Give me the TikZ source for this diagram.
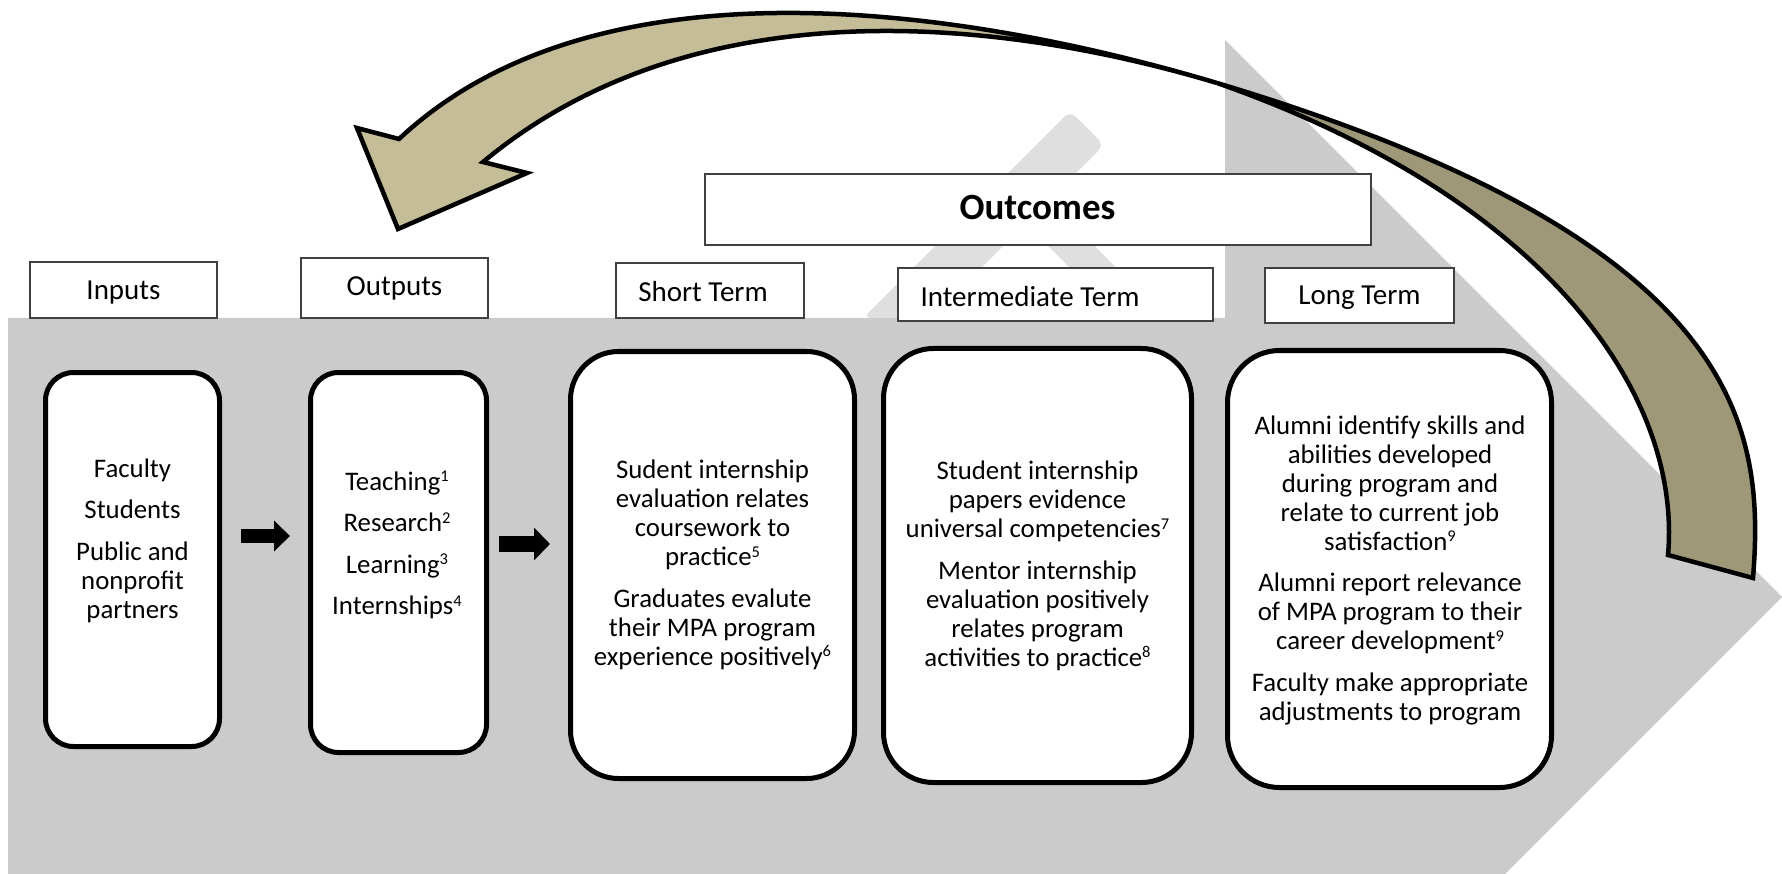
\documentclass[tikz,border=0pt]{standalone}
\usepackage{fontspec}
\setmainfont{Carlito}
\usetikzlibrary{arrows.meta}
\definecolor{bggray}{RGB}{203,203,203}
\definecolor{lightband}{RGB}{223,223,223}
\definecolor{tanlight}{RGB}{196,189,151}
\definecolor{tandark}{RGB}{158,151,120}
\definecolor{boxline}{RGB}{64,64,64}
\newcommand\supnum[1]{\smash{\raisebox{8.5pt}{\fontsize{16.5}{16.5}\selectfont #1}}}
\newcommand\mytab[1]{\begin{tabular}[t]{@{}c@{}}#1\end{tabular}}
\begin{document}
\begin{tikzpicture}[x=1pt,y=-1pt,
  lbl/.style={draw=boxline,line width=1.5pt,fill=white,inner sep=0pt},
  rbox/.style={draw=black,line width=5pt,fill=white,inner sep=0pt},
  lbltext/.style={font=\fontsize{29}{34}\selectfont,inner sep=0pt,anchor=base},
  boxtext/.style={font=\fontsize{26.8}{29}\selectfont,inner sep=0pt,anchor=base},
  blkA/.style={draw=black,line width=14pt,-{Triangle[width=30pt,length=16pt]}},
  blkB/.style={draw=black,line width=16pt,-{Triangle[width=32pt,length=16pt]}},
  tanarrow/.style={draw=black,line width=4.5pt,line join=miter}
]
\useasboundingbox (0,0) rectangle (1782,874);
% big gray chevron
\fill[bggray] (8,318) -- (1225,318) -- (1225,40) -- (1782,597) -- (1505,874) -- (8,874) -- cycle;
% light gray bands
\fill[lightband,rounded corners=8pt] (1070,111) -- (1104,145) -- (931,318) -- (863,318) -- cycle;
\fill[lightband] (1025,223) -- (1049,200) -- (1166,318) -- (1120,318) -- cycle;

% header boxes
\node[lbl,minimum width=666pt,minimum height=71pt] (ocL) at (1038,209.5) {};
\node[lbl,minimum width=187pt,minimum height=56pt] (inL) at (123.5,290) {};
\node[lbl,minimum width=187pt,minimum height=60pt] (outL) at (394.5,288) {};
\node[lbl,minimum width=188pt,minimum height=55pt] (stL) at (710,290.5) {};
\node[lbl,minimum width=315pt,minimum height=53pt] (imL) at (1055.5,294.5) {};
\node[lbl,minimum width=189pt,minimum height=55pt] (ltL) at (1359.5,295.5) {};

\node[inner sep=0pt,anchor=base,font=\fontsize{37}{44}\selectfont\bfseries] (ocT) at (1037.5,220) {Outcomes};
\node[lbltext] (inT) at (123.5,300) {Inputs};
\node[lbltext] (outT) at (394.5,296) {Outputs};
\node[lbltext] (stT) at (703,301.5) {Short Term};
\node[lbltext] (imT) at (1030,307) {Intermediate Term};
\node[lbltext] (ltT) at (1359.5,305) {Long Term};

% rounded content boxes
\node[rbox,rounded corners=28pt,minimum width=174pt,minimum height=374pt] (inB) at (132.5,559.5) {};
\node[rbox,rounded corners=28pt,minimum width=176pt,minimum height=380pt] (outB) at (398.5,562.5) {};
\node[rbox,rounded corners=48pt,minimum width=284pt,minimum height=427pt] (stB) at (712.5,565) {};
\node[rbox,rounded corners=50pt,minimum width=308pt,minimum height=434pt] (imB) at (1037.5,565.5) {};
\node[rbox,rounded corners=52pt,minimum width=324pt,minimum height=437pt] (ltB) at (1389.5,569) {};

\node[boxtext] (inX) at (132.5,477) {\mytab{Faculty\\[12.5pt] Students\\[12.5pt] Public and\\ nonprofit\\ partners}};
\node[boxtext] (outX) at (397,490) {\mytab{Teaching\supnum{1}\\[12.5pt] Research\supnum{2}\\[12.5pt] Learning\supnum{3}\\[12.5pt] Internships\supnum{4}}};
\node[boxtext] (stX) at (712.5,478.5) {\mytab{Sudent internship\\ evaluation relates\\ coursework to\\ practice\supnum{5}\\[12.5pt] Graduates evalute\\ their MPA program\\ experience positively\supnum{6}}};
\node[boxtext] (imX) at (1037.5,479.5) {\mytab{Student internship\\ papers evidence\\ universal competencies\supnum{7}\\[12.5pt] Mentor internship\\ evaluation positively\\ relates program\\ activities to practice\supnum{8}}};
\node[boxtext] (ltX) at (1390,434) {\mytab{Alumni identify skills and\\ abilities developed\\ during program and\\ relate to current job\\ satisfaction\supnum{9}\\[12.5pt] Alumni report relevance\\ of MPA program to their\\ career development\supnum{9}\\[12.5pt] Faculty make appropriate\\ adjustments to program}};

% block arrows between boxes
\draw[blkA] ([xshift=19pt,yshift=23.5pt]inB.east) coordinate (a1s) -- ([xshift=-18pt]outB.west |- a1s);
\draw[blkB] ([xshift=10pt,yshift=18.5pt]outB.east) coordinate (a2s) -- ([xshift=-18pt]stB.west |- a2s);

% curved feedback arrow
\coordinate (tw) at (1217,83);
\coordinate (tip) at (398,229);
\coordinate (tail) at (1753,578);
\path[tanarrow,fill=tandark] (tw) .. controls (1743,241) and (1765,427) .. (tail) -- (1668,555) .. controls (1682,395) and (1547,198.5) .. (tw) -- cycle;
\path[tanarrow,fill=tanlight] (tw) .. controls (1006,20) and (610,-59) .. (399,139) -- (357,128) -- (tip) -- (527,173) -- (483,162) .. controls (697,-16) and (1003,19) .. (tw) -- cycle;
\end{tikzpicture}
\end{document}
